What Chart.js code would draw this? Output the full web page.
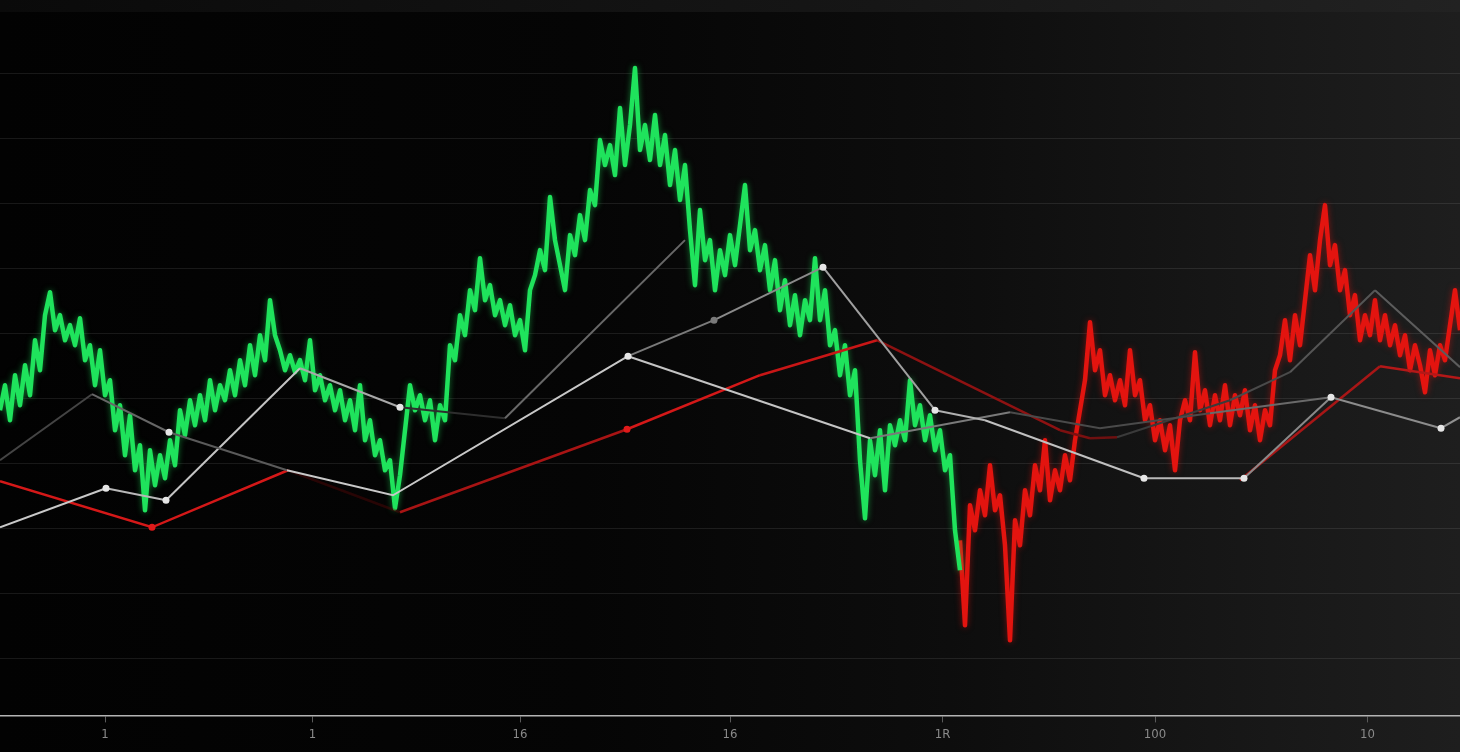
<!DOCTYPE html>
<html lang="en">
<head>
  <meta charset="UTF-8" />
  <title>Price Chart</title>
  <script src="https://cdn.jsdelivr.net/npm/chart.js"></script>
  <style>
    html, body { margin: 0; padding: 0; overflow: hidden; }
    body {
      width: 1460px; height: 752px;
      background: linear-gradient(90deg, #020202 0%, #050505 40%, #0d0d0d 65%, #171717 85%, #1e1e1e 100%);
    }
    .top-band {
      position: absolute; left: 0; top: 0; width: 1460px; height: 12px;
      background: linear-gradient(90deg, #0a0a0a, #161616 60%, #222 100%);
    }
    .wrap { position: relative; width: 1460px; height: 752px; }
  </style>
</head>
<body>
<div class="top-band"></div>
<div class="wrap"><canvas id="priceChart"></canvas></div>

<script>
// x = sample index, y = price
const xTicks = [21, 62.5, 104, 146, 188.5, 231, 273.5];
const xTickLabels = ['1', '1', '16', '16', '1R', '100', '10'];
const gridLevels = [11.4, 24.4, 37.4, 50.4, 63.4, 76.4, 89.4, 102.4, 115.4, 128.4];

const greenPrices = [
  61, 66, 59, 68, 62, 70, 64, 75, 69, 80,
  84.6, 77, 80, 75, 78, 74, 79.4, 71, 74, 66,
  73, 64, 67, 57, 62, 52, 60, 49, 54, 41,
  53, 46, 52, 47.4, 55, 50, 61, 56, 63, 58,
  64, 59, 67, 61, 66, 63, 69, 64, 71, 66,
  74, 68, 76, 71, 83, 76, 73, 69, 72, 68.6,
  71, 67, 75, 65, 68, 63, 66, 61, 65, 59,
  63, 57, 66, 55, 59, 52, 55, 49, 51, 41.4,
  48, 57, 66, 61, 64, 59, 63, 55, 62, 59,
  74, 71, 80, 76, 85, 81, 91.4, 83, 86, 80,
  83, 78, 82, 76, 79, 73, 85, 88, 93, 89,
  103.6, 95, 90, 85, 96, 92, 100, 95, 105, 102,
  115, 110, 114, 108, 121.4, 110, 118, 129.4, 113, 118,
  111, 120, 110, 116, 106, 113, 103, 110, 97, 86,
  101, 91, 95, 85, 93, 88, 96, 90, 98, 106,
  93, 97, 89, 94, 85, 91, 81, 87, 78, 84,
  76, 83, 79, 91.4, 79, 85, 74, 77, 68, 74,
  64, 69, 51, 39.4, 55, 48, 57, 45, 58, 54,
  59, 55, 67, 58, 62, 55, 60, 53, 57, 49,
  52, 37, 29
];

const redStart = 192;
const redPrices = [
  35, 18, 42, 37, 45, 40, 50, 41, 44, 34,
  15, 39, 34, 45, 40, 50, 45, 55, 43, 49,
  45, 52, 47, 55, 61, 67, 78.6, 69, 73, 64,
  68, 63, 67, 62, 73, 64, 67, 59, 62, 55,
  59, 53, 58, 49, 59, 63, 59, 72.6, 61, 65,
  58, 64, 59, 66, 58, 64, 60, 65, 57, 62,
  55, 61, 58, 69, 72, 79, 71, 80, 74, 83,
  92, 85, 95, 102, 90, 94, 85, 89, 80, 84,
  75, 80, 76, 83, 75, 80, 74, 78, 72, 76,
  69, 74, 70, 64.6, 73, 68, 74, 71, 78, 85,
  77
];

// overlay lines: [sample index, price]
const lineA = [[0, 37.6], [21.2, 45.4], [33.2, 43], [60, 69.4], [80, 61.6], [101, 59.4], [137, 95]];
const lineB = [[0, 51], [18.4, 64.2], [33.8, 56.6], [57.4, 49], [78.6, 44], [125.6, 71.8], [142.8, 79],
  [164.6, 89.6], [187, 61], [197, 59], [228.8, 47.4], [248.8, 47.4], [266.2, 63.6], [288.2, 57.4], [292, 59.6]];
const lineC = [[125.6, 71.8], [174, 55.4], [202, 60.6], [220, 57.4], [242, 60.4], [266.2, 63.6]];
const lineD = [[223.4, 55.6], [246, 63], [258, 68.6], [275, 85], [292, 69.6]];
const redLine = [[0, 46.8], [30.4, 37.6], [57.6, 49], [80, 40.6], [125.4, 57.2], [152, 68], [175.4, 75],
  [212, 57], [218, 55.4], [223.4, 55.6], [248, 47], [276, 69.8], [292, 67.4]];

// styling
const segA = ['#c8c8c8', '#b8b8b8', '#c4c4c4', '#a8a8a8', '#2e2e2e', '#686868'];
const segB = ['#444', '#666', '#5a5a5a', '#c8c8c8', '#c8c8c8', '#7a7a7a', '#8a8a8a', '#a0a0a0',
  '#b0b0b0', '#c0c0c0', '#b8b8b8', '#8a8a8a', '#8c8c8c', '#909090'];
const segC = ['#c4c4c4', '#7a7a7a', '#4a4a4a', '#4a4a4a', '#6a6a6a'];
const segD = ['#3a3a3a', '#4a4a4a', '#555', '#5c5c5c'];
const segRed = ['#d41818', '#d41818', 'rgba(110,10,10,0.35)', '#a81414', '#d41818', '#c81616', '#8e1212',
  '#7c1010', '#6e1010', 'rgba(0,0,0,0)', '#a81616', '#b41818'];
const dotsA = [1, 2, 4];
const dotsB = [2, 5, 6, 7, 8, 10, 11, 12, 13];
const dotsRed = [1, 4];

const toXY = arr => arr.map(p => ({ x: p[0], y: p[1] }));

function overlay(points, seg, dots, dotColor, width) {
  return {
    type: 'line',
    data: toXY(points),
    borderWidth: width,
    tension: 0,
    order: 1,
    segment: { borderColor: c => seg[c.p0DataIndex] },
    borderColor: seg[0],
    pointRadius: c => dots.includes(c.dataIndex) ? 3.5 : 0,
    pointBackgroundColor: c => (points === lineB && c.dataIndex === 6) ? '#7a7a7a' : dotColor,
    pointBorderWidth: 0
  };
}

// soft glow behind the price lines
const glow = {
  id: 'glow',
  beforeDatasetDraw(chart, args) {
    const ds = chart.data.datasets[args.index];
    if (!ds.glowColor) return;
    chart.ctx.save();
    chart.ctx.shadowColor = ds.glowColor;
    chart.ctx.shadowBlur = 6;
  },
  afterDatasetDraw(chart, args) {
    if (chart.data.datasets[args.index].glowColor) chart.ctx.restore();
  }
};

new Chart(document.getElementById('priceChart'), {
  type: 'line',
  data: {
    datasets: [
      overlay(lineB, segB, dotsB, '#e6e6e6', 2),
      overlay(lineA, segA, dotsA, '#e6e6e6', 2),
      overlay(lineC, segC, [], '#e6e6e6', 2),
      overlay(lineD, segD, [], '#e6e6e6', 2),
      overlay(redLine, segRed, dotsRed, '#e01a1a', 2.5),
      {
        data: greenPrices.map((v, i) => ({ x: i, y: v })),
        borderColor: '#1fe35c',
        glowColor: 'rgba(30,230,90,0.5)',
        borderWidth: 4.5,
        borderJoinStyle: 'round',
        pointRadius: 0,
        tension: 0,
        order: 5
      },
      {
        data: redPrices.map((v, i) => ({ x: redStart + i, y: v })),
        borderColor: '#e3140f',
        glowColor: 'rgba(230,20,15,0.5)',
        borderWidth: 4.5,
        borderJoinStyle: 'round',
        pointRadius: 0,
        tension: 0,
        order: 5
      }
    ]
  },
  plugins: [glow],
  options: {
    responsive: true,
    maintainAspectRatio: false,
    animation: false,
    layout: { padding: { left: 0, right: 0, top: 0, bottom: 6 } },
    plugins: { legend: { display: false }, tooltip: { enabled: false } },
    scales: {
      x: {
        type: 'linear',
        min: 0,
        max: 292,
        afterBuildTicks: s => { s.ticks = xTicks.map(v => ({ value: v })); },
        ticks: {
          color: '#8a8a8a',
          autoSkip: false,
          maxRotation: 0,
          padding: 4,
          font: { family: "'Liberation Sans Narrow', 'DejaVu Sans Condensed', sans-serif", size: 13 },
          callback: (v, i) => xTickLabels[i]
        },
        grid: { drawOnChartArea: false, drawTicks: true, tickLength: 7, color: '#5a5a5a' },
        border: { display: true, color: '#b4b4b4', width: 1.5 }
      },
      y: {
        min: 0,
        max: 143,
        afterBuildTicks: s => { s.ticks = gridLevels.map(v => ({ value: v })); },
        ticks: { display: false },
        grid: { drawTicks: false, color: 'rgba(255,255,255,0.09)', lineWidth: 1 },
        border: { display: false }
      }
    }
  }
});
</script>
</body>
</html>
